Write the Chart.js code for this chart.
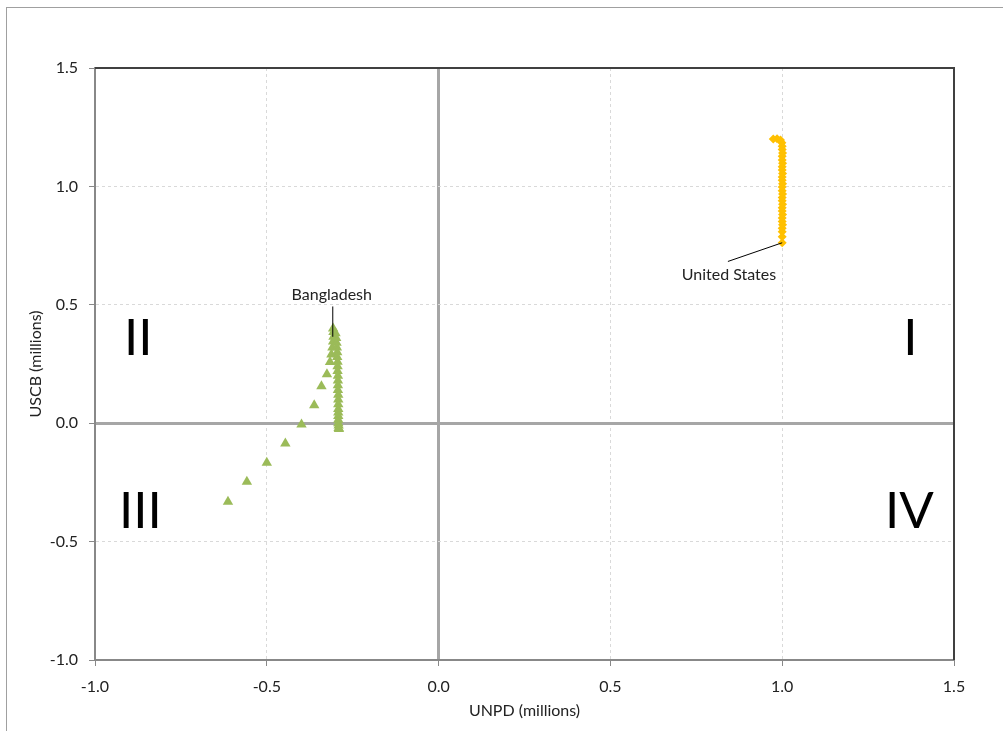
<!DOCTYPE html>
<html lang="en">
<head>
    <meta charset="UTF-8">
    <title>UNPD vs USCB</title>
    <style>
        body { margin: 0; background: #fff; }
        #chart-container { width: 1003px; height: 731px; }
    </style>
</head>
<body>
    <div id="chart-container">
        <canvas id="quadrant-chart" width="1003" height="731"></canvas>
    </div>

    <script src="https://cdn.jsdelivr.net/npm/chart.js"></script>

    <script>
        // Bangladesh: UNPD minus USCB style differences (millions)
        const bangladeshX = [-0.613, -0.558, -0.500, -0.446, -0.399, -0.362, -0.341, -0.325, -0.316, -0.312,
                             -0.309, -0.307, -0.306, -0.306, -0.307, -0.300, -0.298, -0.297, -0.296, -0.295,
                             -0.295, -0.294, -0.294, -0.294, -0.293, -0.293, -0.293, -0.293, -0.292, -0.292,
                             -0.292, -0.292, -0.292, -0.292, -0.292, -0.292, -0.291, -0.291, -0.290];
        const bangladeshY = [-0.332, -0.247, -0.167, -0.086, -0.006, 0.076, 0.156, 0.207, 0.258, 0.290,
                             0.320, 0.345, 0.365, 0.385, 0.400, 0.380, 0.360, 0.340, 0.320, 0.300,
                             0.280, 0.260, 0.240, 0.220, 0.200, 0.180, 0.160, 0.140, 0.120, 0.100,
                             0.080, 0.060, 0.045, 0.030, 0.015, 0.000, -0.010, -0.020, -0.025];

        // United States
        const usX = [0.974, 0.985, 0.995, 0.999, 1.000, 1.000, 1.001, 1.000, 1.000, 1.001,
                     1.000, 1.000, 1.001, 1.000, 1.000, 1.001, 1.000, 1.000, 1.001, 1.000,
                     1.000, 1.001, 1.000, 1.000, 1.001, 1.000, 1.000, 1.001, 1.000, 1.000,
                     1.000, 1.000];
        const usY = [1.200, 1.201, 1.196, 1.184, 1.170, 1.156, 1.141, 1.127, 1.112, 1.098,
                     1.083, 1.069, 1.054, 1.040, 1.026, 1.011, 0.997, 0.982, 0.968, 0.953,
                     0.939, 0.925, 0.910, 0.896, 0.881, 0.867, 0.852, 0.838, 0.823, 0.809,
                     0.787, 0.762];

        const xTicks = [-1.0, -0.5, 0.0, 0.5, 1.0, 1.5];
        const yTicks = [-1.0, -0.5, 0.0, 0.5, 1.0, 1.5];

        const quadrantLabels = ['I', 'II', 'III', 'IV'];
        const quadrantX = [1.373, -0.874, -0.868, 1.370];
        const quadrantY = [0.358, 0.358, -0.371, -0.371];

        const seriesLabels = ['Bangladesh', 'United States'];
        const labelX = [-0.311, 0.845];
        const labelY = [0.544, 0.628];
        const leaderFrom = [[-0.308, 0.493], [0.842, 0.683]];
        const leaderTo = [[-0.308, 0.365], [1.000, 0.762]];

        const FONT = 'Lato, "Open Sans", sans-serif';

        function toPoints(xs, ys) {
            return xs.map((x, i) => ({ x: x, y: ys[i] }));
        }

        const extras = {
            id: 'extras',
            beforeDraw(chart) {
                const c = chart.ctx;
                c.save();
                c.fillStyle = '#fff';
                c.fillRect(0, 0, chart.width, chart.height);
                c.strokeStyle = '#a0a0a0';
                c.lineWidth = 1;
                c.strokeRect(6.5, 7.5, chart.width + 10, chart.height + 10);
                c.restore();
            },
            afterDraw(chart) {
                const c = chart.ctx;
                const a = chart.chartArea;
                const xs = chart.scales.x, ys = chart.scales.y;
                c.save();
                // plot frame top / right
                c.strokeStyle = '#404040';
                c.lineWidth = 2;
                c.beginPath();
                c.moveTo(a.left, a.top);
                c.lineTo(a.right, a.top);
                c.lineTo(a.right, a.bottom);
                c.stroke();

                // quadrant numerals
                c.fillStyle = '#000';
                c.font = '51px ' + FONT;
                c.textAlign = 'center';
                c.textBaseline = 'middle';
                quadrantLabels.forEach((t, i) => {
                    c.fillText(t, xs.getPixelForValue(quadrantX[i]), ys.getPixelForValue(quadrantY[i]));
                });

                // series call-outs
                c.strokeStyle = '#000';
                c.lineWidth = 1;
                seriesLabels.forEach((t, i) => {
                    c.beginPath();
                    c.moveTo(xs.getPixelForValue(leaderFrom[i][0]), ys.getPixelForValue(leaderFrom[i][1]));
                    c.lineTo(xs.getPixelForValue(leaderTo[i][0]), ys.getPixelForValue(leaderTo[i][1]));
                    c.stroke();
                });
                c.font = '16px ' + FONT;
                c.fillStyle = '#222';
                seriesLabels.forEach((t, i) => {
                    c.fillText(t, xs.getPixelForValue(labelX[i]), ys.getPixelForValue(labelY[i]));
                });

                // axis titles
                c.font = '16px ' + FONT;
                c.fillText('UNPD (millions)', (a.left + a.right) / 2, 711);
                c.translate(36, (a.top + a.bottom) / 2);
                c.rotate(-Math.PI / 2);
                c.fillText('USCB (millions)', 0, 0);
                c.restore();
            }
        };

        function gridColor(ctx) {
            return ctx.tick && ctx.tick.value === 0 ? '#a6a6a6' : '#d9d9d9';
        }
        function gridWidth(ctx) {
            return ctx.tick && ctx.tick.value === 0 ? 3 : 1;
        }
        function gridDash(ctx) {
            if (ctx.type !== 'tick') return [];
            return ctx.tick.value === 0 ? [] : [3, 3];
        }

        const ctx = document.getElementById('quadrant-chart').getContext('2d');
        const chart = new Chart(ctx, {
            type: 'scatter',
            data: {
                datasets: [
                    {
                        label: 'Bangladesh',
                        data: toPoints(bangladeshX, bangladeshY),
                        pointStyle: 'triangle',
                        pointRadius: 6,
                        backgroundColor: '#9bbb59',
                        borderColor: '#9bbb59',
                        borderWidth: 0
                    },
                    {
                        label: 'United States',
                        data: toPoints(usX, usY),
                        pointStyle: 'rectRot',
                        pointRadius: 4.5,
                        backgroundColor: '#ffc000',
                        borderColor: '#ffc000',
                        borderWidth: 0
                    }
                ]
            },
            options: {
                responsive: false,
                animation: false,
                devicePixelRatio: 1,
                layout: { padding: { left: 0, top: 68, right: 49, bottom: 0 } },
                plugins: {
                    legend: { display: false },
                    tooltip: { enabled: false }
                },
                scales: {
                    x: {
                        type: 'linear',
                        min: -1.0,
                        max: 1.5,
                        afterBuildTicks: (s) => { s.ticks = xTicks.map(v => ({ value: v })); },
                        afterFit: (s) => { s.height = 71; },
                        ticks: {
                            callback: (v) => v.toFixed(1),
                            color: '#222',
                            padding: 11,
                            font: { family: FONT, size: 16 }
                        },
                        grid: {
                            color: gridColor,
                            lineWidth: gridWidth,
                            tickColor: '#888',
                            tickLength: 6,
                            tickWidth: 1
                        },
                        border: { color: '#888', width: 2, dash: gridDash }
                    },
                    y: {
                        type: 'linear',
                        min: -1.0,
                        max: 1.5,
                        afterBuildTicks: (s) => { s.ticks = yTicks.map(v => ({ value: v })); },
                        afterFit: (s) => { s.width = 95; },
                        ticks: {
                            callback: (v) => v.toFixed(1),
                            color: '#222',
                            padding: 11,
                            font: { family: FONT, size: 16 }
                        },
                        grid: {
                            color: gridColor,
                            lineWidth: gridWidth,
                            tickColor: '#888',
                            tickLength: 6,
                            tickWidth: 1
                        },
                        border: { color: '#888', width: 2, dash: gridDash }
                    }
                }
            },
            plugins: [extras]
        });
    </script>
</body>
</html>
